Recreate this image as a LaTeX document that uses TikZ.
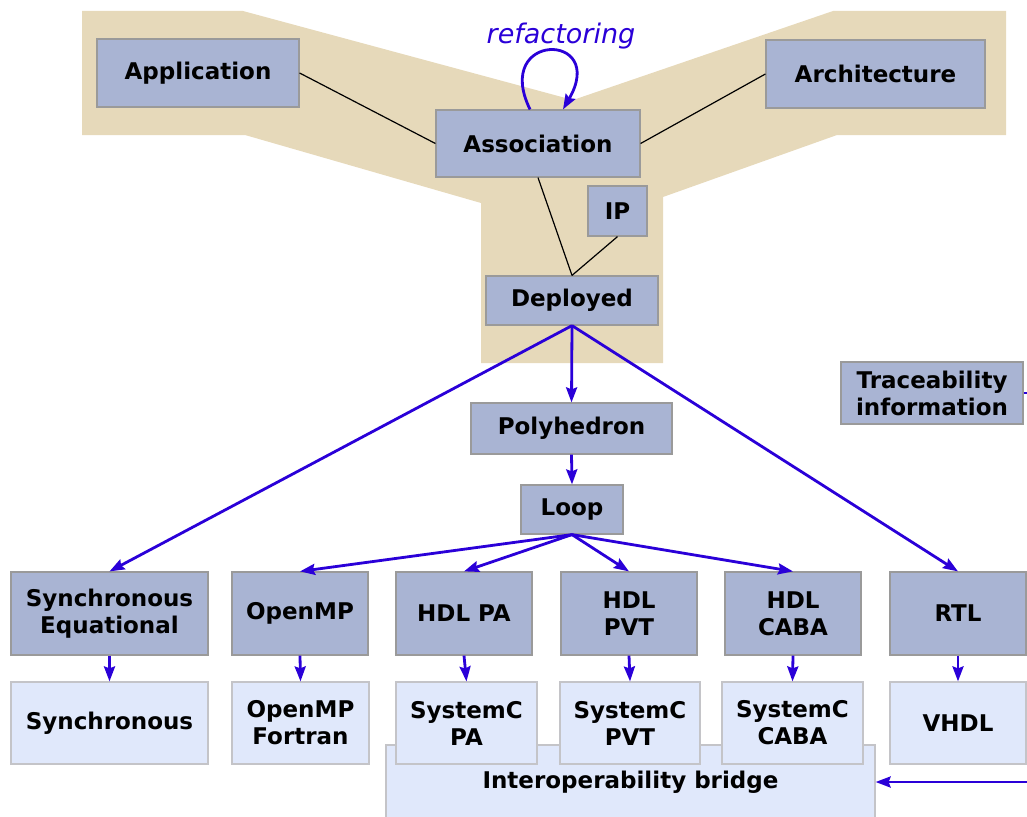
\documentclass[tikz,border=0pt]{standalone}
\usepackage{fontspec}
\setmainfont{DejaVu Sans}
\usetikzlibrary{arrows.meta}
\definecolor{boxfill}{HTML}{A9B4D3}
\definecolor{boxline}{HTML}{9A9A9A}
\definecolor{lightfill}{HTML}{E0E8FB}
\definecolor{lightline}{HTML}{C4C4C8}
\definecolor{beige}{HTML}{E6D9BA}
\definecolor{flowblue}{HTML}{2A00D8}
\begin{document}
\begin{tikzpicture}[x=1pt,y=-1pt]
\tikzstyle{every node}+=[inner sep=0pt, align=center, font=\fontsize{23}{27}\selectfont\bfseries]
\tikzstyle{model}=[draw=boxline, fill=boxfill, line width=1.2pt]
\tikzstyle{code}=[draw=lightline, fill=lightfill, line width=1.2pt]
\tikzstyle{flow}=[draw=flowblue, line width=2.8pt, -{Stealth[length=15pt,width=11pt,inset=2pt]}]
\tikzstyle{link}=[draw=black, line width=1.2pt]
\useasboundingbox (0,0) rectangle (1027,816);
\clip (0,0) rectangle (1027,816);
% Y shaped background
\fill [beige] (82,11) -- (243,11) -- (573,100) -- (833,11) -- (1006,11) -- (1006,135) -- (837,135) -- (663,197) -- (663,363) -- (481,363) -- (481,203) -- (245,135) -- (82,135) -- cycle;
% top models
\node [model, minimum width=202, minimum height=68] (app) at (198,73) {Application};
\node [model, minimum width=219, minimum height=68] (arch) at (875.5,74) {Architecture};
\node [model, minimum width=204, minimum height=67] (assoc) at (538,143.5) {Association};
\node [model, minimum width=59, minimum height=50] (ip) at (617.5,211) {IP};
\node [model, minimum width=172, minimum height=49] (depl) at (572,300.5) {Deployed};
\node [model, minimum width=201, minimum height=51] (poly) at (571.5,428.5) {Polyhedron};
\node [model, minimum width=102, minimum height=49] (loop) at (572,509.5) {Loop};
\node [model, minimum width=182, minimum height=62] (trace) at (932,393) {Traceability\\information};
\node [font=\fontsize{27}{30}\selectfont\itshape\mdseries, text=flowblue] (refac) at (561,36) {refactoring};
% metamodels
\node [model, minimum width=197, minimum height=83] (syneq) at (109.5,613.5) {Synchronous\\Equational};
\node [model, minimum width=136, minimum height=83] (omp) at (300,613.5) {OpenMP};
\node [model, minimum width=136, minimum height=83] (hdlpa) at (464,613.5) {HDL PA};
\node [model, minimum width=136, minimum height=83] (hdlpvt) at (629,613.5) {HDL\\PVT};
\node [model, minimum width=136, minimum height=83] (hdlcaba) at (793,613.5) {HDL\\CABA};
\node [model, minimum width=136, minimum height=83] (rtl) at (958,613.5) {RTL};
% generated code
\node [code, minimum width=489, minimum height=74] (bridge) at (630.5,782) {Interoperability bridge};
\node [code, minimum width=197, minimum height=82] (sync) at (109.5,723) {Synchronous};
\node [code, minimum width=137, minimum height=82] (ompf) at (300.5,723) {OpenMP\\Fortran};
\node [code, minimum width=141, minimum height=82] (scpa) at (466.5,723) {SystemC\\PA};
\node [code, minimum width=140, minimum height=82] (scpvt) at (630,723) {SystemC\\PVT};
\node [code, minimum width=141, minimum height=82] (sccaba) at (792.5,723) {SystemC\\CABA};
\node [code, minimum width=136, minimum height=82] (vhdl) at (958,723) {VHDL};
\coordinate (traceout) at (1030,393);
\coordinate (bridgein) at (1030,782);
% links
\draw [link] (app.east) -- (assoc.west);
\draw [link] (arch.west) -- (assoc.east);
\draw [link] (assoc.south) -- (depl.north);
\draw [link] (ip.south) -- (depl.north);
\draw [flow] ([xshift=-8pt]assoc.north) .. controls +(-38,-78) and +(45,-78) .. ([xshift=25pt]assoc.north);
\draw [flow] (depl.south) -- (poly.north);
\draw [flow] (depl.south) -- (syneq.north);
\draw [flow] (depl.south) -- (rtl.north);
\draw [flow] (poly.south) -- (loop.north);
\draw [flow] (loop.south) -- (omp.north);
\draw [flow] (loop.south) -- (hdlpa.north);
\draw [flow] (loop.south) -- (hdlpvt.north);
\draw [flow] (loop.south) -- (hdlcaba.north);
\draw [flow] (syneq.south) -- (sync.north);
\draw [flow] (omp.south) -- (ompf.north);
\draw [flow] (hdlpa.south) -- (scpa.north);
\draw [flow] (hdlpvt.south) -- (scpvt.north);
\draw [flow] (hdlcaba.south) -- (sccaba.north);
\draw [flow] (rtl.south) -- (vhdl.north);
\draw [draw=flowblue, line width=2.8pt] (trace.east) -- (traceout);
\draw [flow] (bridgein) -- (bridge.east);
\end{tikzpicture}
\end{document}
